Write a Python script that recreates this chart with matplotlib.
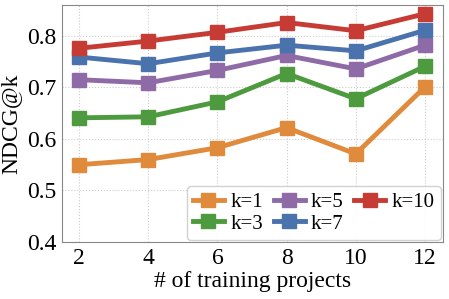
import matplotlib
matplotlib.use("Agg")
import matplotlib.pyplot as plt

x = [2, 4, 6, 8, 10, 12]
labels = ["k=1", "k=3", "k=5", "k=7", "k=10"]
k1 = [0.550, 0.560, 0.583, 0.622, 0.571, 0.701]
k3 = [0.641, 0.643, 0.672, 0.727, 0.678, 0.741]
k5 = [0.715, 0.709, 0.733, 0.762, 0.736, 0.782]
k7 = [0.759, 0.746, 0.767, 0.782, 0.771, 0.811]
k10 = [0.776, 0.790, 0.807, 0.826, 0.810, 0.843]
series = [k1, k3, k5, k7, k10]
colors = ["#e08a3c", "#4e9a3e", "#8e6aa6", "#4a72ad", "#c63c35"]

plt.rcParams['font.family'] = ['Liberation Serif', 'DejaVu Serif']

fig = plt.figure(figsize=(4.49, 2.99), dpi=100)
ax = fig.add_axes([62/449, 1-242/299, (443-62)/449, (242-5)/299])

for s, lab, c in zip(series, labels, colors):
    ax.plot(x, s, color=c, lw=3.5, marker='s', ms=10, label=lab, zorder=3)

ax.set_xlim(1.51, 12.52)
ax.set_ylim(0.4, 0.86)
ax.set_xticks(x)
ax.set_yticks([0.4, 0.5, 0.6, 0.7, 0.8])
ax.tick_params(labelsize=17, length=0, pad=4)
ax.grid(True, linestyle=':', color='#cccccc', lw=0.8)
for sp in ax.spines.values():
    sp.set_color('#888888')
ax.set_xlabel("# of training projects", fontsize=17, labelpad=2)
ax.set_ylabel("NDCG@k", fontsize=17, labelpad=4)
leg = ax.legend(ncol=3, loc='lower right', fontsize=15, handlelength=1.5,
                columnspacing=0.5, handletextpad=0.3, labelspacing=0.1,
                borderpad=0.3, borderaxespad=0.1, framealpha=0.9)
fig.savefig("out.png", dpi=100)
